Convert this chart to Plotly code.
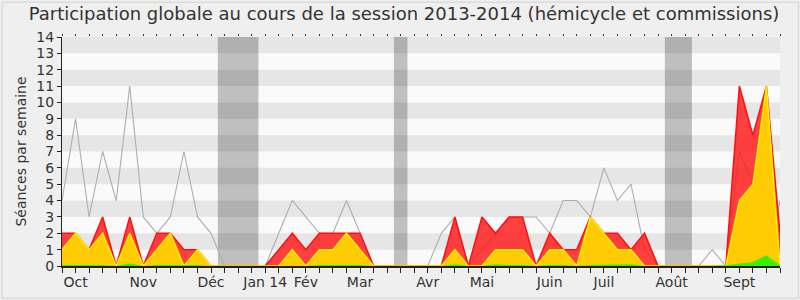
import plotly.graph_objects as go

# ---- data (weekly, index 0..53) ----
weeks = list(range(54))
month_labels = ["Oct", "Nov", "Déc", "Jan 14", "Fév", "Mar", "Avr", "Mai", "Juin", "Juil", "Août", "Sept"]
month_pos = [1, 6, 11, 15, 18, 22, 27, 31, 36, 40, 45, 50]

gray_median = [4, 9, 3, 7, 4, 11, 3, 2, 3, 7, 3, 2, 0, 0, 0, 0, 2, 4, 3, 2, 2, 4, 2, 0, 0, 0, 0, 0,
               2, 3, 0, 1, 2, 3, 3, 3, 2, 4, 4, 3, 6, 4, 5, 1, 0, 0, 0, 0, 1, 0, 7, 5, 0, 4]
red_presence = [2, 2, 1, 3, 0, 3, 0, 2, 2, 1, 1, 0, 0, 0, 0, 0, 1, 2, 1, 2, 2, 2, 2, 0, 0, 0, 0, 0,
                0, 3, 0, 3, 2, 3, 3, 0, 2, 1, 1, 3, 2, 2, 1, 2, 0, 0, 0, 0, 0, 0, 11, 8, 11, 2]
yellow_commission = [1, 2, 1, 2, 0, 2, 0, 1, 2, 0, 1, 0, 0, 0, 0, 0, 0, 1, 0, 1, 1, 2, 1, 0, 0, 0, 0, 0,
                     0, 1, 0, 0, 1, 1, 1, 0, 1, 1, 0, 3, 2, 1, 1, 0, 0, 0, 0, 0, 0, 0, 4, 5, 11, 0]
green_interv = [0.06, 0.06, 0.06, 0.06, 0, 0.15, 0, 0.06, 0.06, 0.06, 0.06, 0, 0, 0, 0, 0, 0, 0, 0, 0.06,
                0.06, 0.06, 0.06, 0, 0, 0, 0, 0, 0, 0.1, 0, 0, 0.1, 0.06, 0.06, 0, 0.06, 0.06, 0, 0.06,
                0.06, 0.06, 0.1, 0, 0, 0, 0, 0, 0, 0.05, 0.15, 0.25, 0.65, 0.05]
blue_weeks = [7, 39]
blue_values = [0.87, 0.87]
holidays = [(11.5, 14.5), (24.5, 25.5), (44.5, 46.5)]

fig = go.Figure()

fig.add_trace(go.Scatter(x=weeks, y=gray_median, mode="lines",
                         line=dict(color="#aeaeae", width=1.1), hoverinfo="skip", showlegend=False))
fig.add_trace(go.Scatter(x=weeks, y=red_presence, mode="lines", fill="tozeroy",
                         fillcolor="rgba(255,30,30,0.85)",
                         line=dict(color="#ff1010", width=1.5), hoverinfo="skip", showlegend=False))
fig.add_trace(go.Scatter(x=weeks, y=yellow_commission, mode="lines", fill="tozeroy",
                         fillcolor="rgba(255,212,0,0.95)",
                         line=dict(color="#ffee00", width=1.5), hoverinfo="skip", showlegend=False))
fig.add_trace(go.Scatter(x=weeks, y=green_interv, mode="lines", fill="tozeroy",
                         fillcolor="rgba(50,240,0,0.95)",
                         line=dict(color="rgba(0,0,0,0)", width=0), hoverinfo="skip", showlegend=False))
fig.add_trace(go.Bar(x=blue_weeks, y=blue_values, width=0.3, marker=dict(color="#2222dd", line=dict(width=0)),
                     hoverinfo="skip", showlegend=False))
# dummy trace so the top (mirror) axis is drawn
fig.add_trace(go.Scatter(x=[None], y=[None], xaxis="x2", showlegend=False, hoverinfo="skip"))

shapes = []
# horizontal stripes
for k in range(1, 14, 2):
    shapes.append(dict(type="rect", xref="x", yref="y", x0=0, x1=53, y0=k, y1=k + 1,
                       fillcolor="#e6e6e6", line=dict(width=0), layer="below"))
# holiday bands
for a, b in holidays:
    shapes.append(dict(type="rect", xref="x", yref="y", x0=a, x1=b, y0=0, y1=14,
                       fillcolor="rgba(0,0,0,0.235)", line=dict(width=0), layer="below"))
# right edge of plot
shapes.append(dict(type="line", xref="x", yref="y", x0=53.08, x1=53.08, y0=0, y1=14,
                   line=dict(color="#c4c4c4", width=1.5)))
# outer frame
shapes.append(dict(type="rect", xref="paper", yref="paper", x0=-0.0835, x1=1.0258, y0=-0.141, y1=1.152,
                   line=dict(color="#dcdcdc", width=1.5), fillcolor="rgba(0,0,0,0)", layer="below"))

ticktext = []
for w in weeks:
    ticktext.append(month_labels[month_pos.index(w)] if w in month_pos else "")

font = "DejaVu Sans"
fig.update_layout(
    width=800, height=300,
    margin=dict(l=62, r=20, t=37, b=34, autoexpand=False),
    paper_bgcolor="#efefef",
    plot_bgcolor="#fafafa",
    bargap=0,
    shapes=shapes,
    title=dict(text="Participation globale au cours de la session 2013-2014 (hémicycle et commissions)",
               x=0.505, xanchor="center", y=0.975, yanchor="top",
               font=dict(family=font, size=18, color="#333333")),
    xaxis=dict(range=[0, 53], tickmode="array", tickvals=weeks, ticktext=ticktext,
               ticks="outside", ticklen=5, tickcolor="#222222", tickwidth=1,
               ticklabelstandoff=-3,
               showgrid=False, zeroline=False, showline=True, linecolor="#222222", linewidth=1.5,
               tickfont=dict(family=font, size=14, color="#333333"), layer="above traces",
               automargin=False, fixedrange=True),
    xaxis2=dict(range=[0, 53], overlaying="x", side="top", anchor="y", tickmode="array",
                tickvals=weeks, showticklabels=False, ticks="outside", ticklen=2,
                tickcolor="#333333", showgrid=False, zeroline=False, showline=False, automargin=False),
    yaxis=dict(range=[0, 14], tickmode="array", tickvals=list(range(15)),
               ticks="outside", ticklen=4, tickcolor="#222222",
               showgrid=False, zeroline=False, showline=True, linecolor="#222222", linewidth=1,
               tickfont=dict(family=font, size=14, color="#333333"),
               title=dict(text="Séances par semaine", font=dict(family=font, size=14, color="#333333"),
                          standoff=6),
               layer="above traces", automargin=False, fixedrange=True),
)

fig.write_html("out.html")
